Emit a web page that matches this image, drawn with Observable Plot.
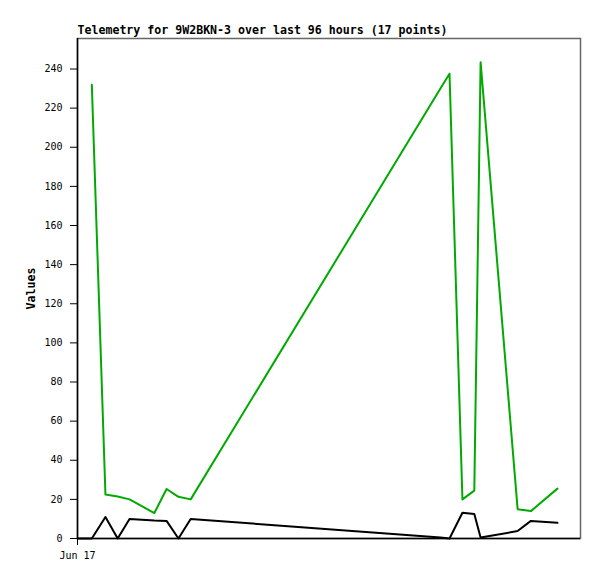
<!DOCTYPE html>
<html>
<head>
<meta charset="utf-8">
<script src="https://cdn.jsdelivr.net/npm/d3@7"></script>
<script src="https://cdn.jsdelivr.net/npm/@observablehq/plot@0.6"></script>
<style>
  html, body { margin: 0; padding: 0; background: #fff; }
</style>
</head>
<body>
<div id="chart"></div>
<script>
// Sample times (Jun 17, UTC, "HH:MM")
const times = ["00:00","00:41","01:20","01:55","02:29","03:40","04:15","04:49","05:24",
               "17:19","17:45","18:22","18:56","19:14","21:00","21:38","22:54"];
// Green series
const greenValues = [null,232,22.5,21.5,20,13,25.3,21.3,20,
                     230,237.6,20,24.5,243.5,15,14,25.5];
// Black series
const blackValues = [0,0,11,0,10,9.2,9,0,10,
                     0.5,0,13.2,12.5,0.5,3.8,9,8];
const yTicks = [0,20,40,60,80,100,120,140,160,180,200,220,240];
const xTickLabel = "Jun 17";
const title = "Telemetry for 9W2BKN-3 over last 96 hours (17 points)";
const yLabel = "Values";

const toDate = (t) => {
  const [h, m] = t.split(":").map(Number);
  return new Date(Date.UTC(2024, 5, 17, h, m));
};
const dayStart = new Date(Date.UTC(2024, 5, 17, 0, 0));
const dayEnd = new Date(Date.UTC(2024, 5, 18, 0, 0));

const green = times.map((t, i) => ({t: toDate(t), v: greenValues[i]}));
const black = times.map((t, i) => ({t: toDate(t), v: blackValues[i]}));

const mono = "'DejaVu Sans Mono', 'Liberation Mono', monospace";

const chart = Plot.plot({
  width: 597,
  height: 579,
  marginLeft: 77,
  marginRight: 17,
  marginTop: 38,
  marginBottom: 41,
  style: {fontFamily: mono, fontSize: "10px", color: "#000", background: "#fff", overflow: "visible"},
  x: {type: "utc", domain: [dayStart, dayEnd]},
  y: {domain: [0, 255.6]},
  marks: [
    Plot.frame({stroke: "#666", strokeWidth: 1.5}),
    Plot.axisY({ticks: yTicks, tickSize: 7, tickPadding: 8, label: null, stroke: "#000"}),
    Plot.axisX({ticks: [dayStart], tickFormat: () => xTickLabel, tickSize: 7, tickPadding: 6, label: null}),
    Plot.ruleY([0], {stroke: "#000", strokeWidth: 1.5}),
    Plot.ruleX([dayStart], {stroke: "#000", strokeWidth: 1.5}),
    Plot.line(green, {x: "t", y: "v", stroke: "#00aa00", strokeWidth: 2, defined: d => d.v != null}),
    Plot.line(black, {x: "t", y: "v", stroke: "#000", strokeWidth: 2}),
    Plot.text([title], {frameAnchor: "top-left", text: d => d, dy: -5, textAnchor: "start", lineAnchor: "bottom",
      fontWeight: "bold", fontSize: 11.6, fill: "#000"}),
    Plot.text([yLabel], {frameAnchor: "left", text: d => d, dx: -46, rotate: -90, textAnchor: "middle",
      lineAnchor: "middle", fontWeight: "bold", fontSize: 11.6, fill: "#000"})
  ]
});
document.getElementById("chart").appendChild(chart);
</script>
</body>
</html>
